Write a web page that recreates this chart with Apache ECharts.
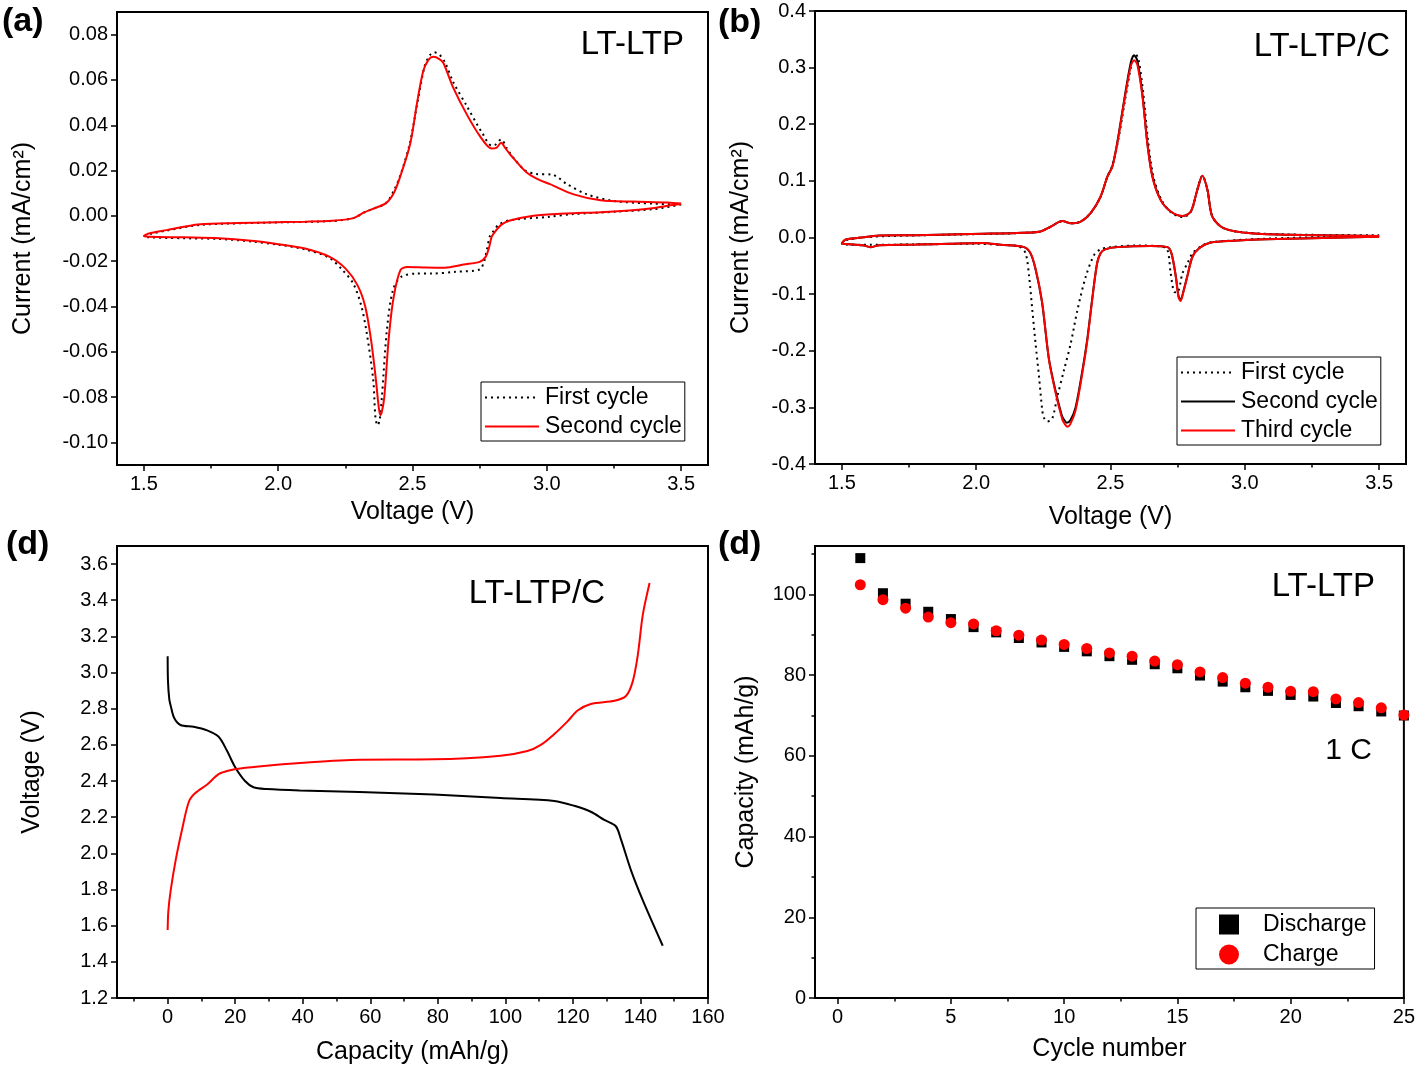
<!DOCTYPE html>
<html>
<head>
<meta charset="utf-8">
<script src="https://cdn.jsdelivr.net/npm/echarts@6/dist/echarts.min.js"></script>
<style>html,body{margin:0;padding:0;background:#fff}#c{width:1418px;height:1068px}</style>
</head>
<body>
<div id="c"></div>
<script>
// ---------- Panel (a): LT-LTP CV, [voltage V, current mA/cm2] in sweep order ----------
const aFirstCycle = [
 [3.50,0.0050],[3.40,0.0030],[3.25,0.0018],[3.10,0.0008],[3.01,-0.0004],[2.86,-0.0020],[2.82,-0.0040],[2.80,-0.0070],
 [2.788,-0.0090],[2.775,-0.0160],[2.766,-0.0203],[2.75,-0.0237],[2.66,-0.0247],[2.57,-0.0255],[2.515,-0.0255],[2.457,-0.0270],
 [2.427,-0.0328],[2.405,-0.0500],[2.386,-0.0800],[2.378,-0.0900],[2.370,-0.0925],[2.362,-0.0890],[2.354,-0.0726],[2.33,-0.0520],
 [2.31,-0.0400],[2.28,-0.0300],[2.24,-0.0240],[2.19,-0.0185],[2.10,-0.0148],[2.00,-0.0127],[1.90,-0.0113],[1.78,-0.0102],
 [1.65,-0.0099],[1.52,-0.0095],[1.50,-0.0092],
 [1.53,-0.0078],[1.585,-0.0065],[1.71,-0.0040],[1.96,-0.0030],[2.20,-0.0023],[2.28,-0.0010],[2.32,0.0015],[2.35,0.0030],
 [2.40,0.0055],[2.43,0.0110],[2.455,0.0180],[2.49,0.0320],[2.52,0.0510],[2.545,0.0660],[2.565,0.0710],[2.581,0.0722],
 [2.60,0.0712],[2.62,0.0680],[2.652,0.0590],[2.702,0.0485],[2.76,0.0365],[2.795,0.0310],[2.81,0.0315],[2.83,0.0338],
 [2.85,0.0300],[2.88,0.0250],[2.92,0.0200],[2.96,0.0185],[3.02,0.0182],[3.074,0.0141],[3.149,0.0095],[3.248,0.0066],
 [3.397,0.0054],[3.50,0.0050]
];
const aSecondCycle = [
 [3.50,0.0052],[3.45,0.0045],[3.40,0.0035],[3.32,0.0025],[3.20,0.0016],[3.07,0.0010],[2.95,0.0000],[2.86,-0.0022],
 [2.83,-0.0040],[2.81,-0.0066],[2.795,-0.0092],[2.785,-0.0140],[2.773,-0.0180],[2.75,-0.0203],[2.69,-0.0215],[2.62,-0.0229],
 [2.55,-0.0228],[2.48,-0.0226],[2.455,-0.0240],[2.43,-0.0358],[2.412,-0.0534],[2.395,-0.0800],[2.385,-0.0870],[2.380,-0.0880],
 [2.372,-0.0820],[2.364,-0.0726],[2.346,-0.0550],[2.324,-0.0400],[2.295,-0.0306],[2.25,-0.0232],[2.19,-0.0180],[2.10,-0.0144],
 [2.00,-0.0125],[1.90,-0.0110],[1.78,-0.0099],[1.65,-0.0095],[1.52,-0.0092],[1.50,-0.0089],
 [1.53,-0.0075],[1.585,-0.0063],[1.65,-0.0048],[1.71,-0.0037],[1.85,-0.0032],[1.96,-0.0029],[2.10,-0.0026],[2.20,-0.0022],
 [2.28,-0.0010],[2.32,0.0015],[2.35,0.0030],[2.40,0.0055],[2.43,0.0100],[2.453,0.0169],[2.491,0.0316],[2.516,0.0492],
 [2.54,0.0639],[2.56,0.0690],[2.578,0.0702],[2.60,0.0692],[2.615,0.0675],[2.652,0.0565],[2.702,0.0448],[2.751,0.0352],
 [2.795,0.0297],[2.812,0.0300],[2.83,0.0323],[2.845,0.0300],[2.863,0.0272],[2.925,0.0191],[2.97,0.0160],[3.012,0.0140],
 [3.10,0.0095],[3.20,0.0069],[3.32,0.0063],[3.45,0.0059],[3.50,0.0054]
];
// ---------- Panel (b): LT-LTP/C CV ----------
const bFirstCycle = [
 [3.50,0.0030],[3.30,0.0010],[3.08,-0.0020],[2.96,-0.0050],[2.87,-0.0090],[2.836,-0.016],[2.805,-0.028],[2.786,-0.046],
 [2.768,-0.063],[2.749,-0.097],[2.737,-0.096],[2.724,-0.063],[2.712,-0.022],[2.69,-0.016],[2.60,-0.014],[2.50,-0.017],
 [2.463,-0.021],[2.439,-0.031],[2.408,-0.069],[2.377,-0.128],[2.352,-0.187],[2.327,-0.234],[2.302,-0.281],[2.283,-0.320],
 [2.265,-0.325],[2.252,-0.318],[2.246,-0.305],[2.234,-0.246],[2.221,-0.187],[2.209,-0.128],[2.197,-0.069],[2.184,-0.028],
 [2.16,-0.016],[2.09,-0.013],[2.00,-0.011],[1.80,-0.012],[1.60,-0.013],[1.50,-0.0115],
 [1.52,-0.004],[1.60,0.001],[1.80,0.004],[2.00,0.006],[2.234,0.010],[2.277,0.019],[2.321,0.029],[2.352,0.025],
 [2.389,0.028],[2.426,0.043],[2.463,0.072],[2.488,0.107],[2.507,0.127],[2.53,0.175],[2.555,0.245],[2.578,0.305],
 [2.592,0.325],[2.604,0.315],[2.622,0.255],[2.64,0.170],[2.66,0.107],[2.69,0.066],[2.724,0.045],[2.768,0.036],
 [2.799,0.045],[2.823,0.084],[2.842,0.109],[2.861,0.084],[2.879,0.037],[2.923,0.016],[3.022,0.008],[3.208,0.005],[3.50,0.004]
];
const bSecondCycle = [
 [3.50,0.0015],[3.33,-0.0003],[3.08,-0.003],[2.96,-0.0056],[2.873,-0.009],[2.83,-0.019],[2.805,-0.034],[2.786,-0.068],
 [2.772,-0.094],[2.761,-0.110],[2.753,-0.103],[2.743,-0.068],[2.727,-0.028],[2.712,-0.017],[2.65,-0.015],[2.526,-0.017],
 [2.48,-0.021],[2.463,-0.028],[2.45,-0.046],[2.432,-0.108],[2.414,-0.178],[2.395,-0.236],[2.37,-0.300],[2.35,-0.323],
 [2.337,-0.327],[2.326,-0.321],[2.318,-0.313],[2.294,-0.268],[2.27,-0.212],[2.245,-0.114],[2.221,-0.056],[2.202,-0.028],
 [2.178,-0.017],[2.091,-0.013],[2.025,-0.0095],[1.90,-0.011],[1.776,-0.0125],[1.64,-0.0135],[1.608,-0.017],[1.577,-0.0137],
 [1.52,-0.0115],[1.50,-0.0105],
 [1.515,-0.0036],[1.565,-0.0006],[1.64,0.0036],[1.776,0.004],[2.025,0.0066],[2.15,0.008],[2.234,0.010],[2.277,0.019],
 [2.321,0.029],[2.352,0.025],[2.389,0.028],[2.426,0.043],[2.463,0.072],[2.488,0.107],[2.507,0.126],[2.526,0.170],
 [2.55,0.240],[2.575,0.308],[2.588,0.322],[2.60,0.312],[2.619,0.252],[2.637,0.168],[2.656,0.108],[2.687,0.066],
 [2.724,0.046],[2.768,0.038],[2.799,0.046],[2.823,0.084],[2.842,0.109],[2.861,0.084],[2.879,0.037],[2.923,0.016],
 [3.022,0.0074],[3.208,0.0044],[3.50,0.0027]
];
const bThirdCycle = [
 [3.50,0.0015],[3.33,-0.0003],[3.08,-0.003],[2.96,-0.0056],[2.873,-0.009],[2.83,-0.019],[2.805,-0.034],[2.786,-0.069],
 [2.772,-0.095],[2.761,-0.112],[2.753,-0.105],[2.743,-0.069],[2.727,-0.028],[2.712,-0.017],[2.65,-0.015],[2.526,-0.017],
 [2.48,-0.021],[2.463,-0.028],[2.45,-0.046],[2.432,-0.110],[2.414,-0.181],[2.395,-0.240],[2.37,-0.305],[2.35,-0.330],
 [2.339,-0.334],[2.328,-0.328],[2.321,-0.322],[2.296,-0.275],[2.271,-0.216],[2.246,-0.116],[2.222,-0.057],[2.203,-0.028],
 [2.178,-0.017],[2.091,-0.013],[2.025,-0.0095],[1.90,-0.011],[1.776,-0.0125],[1.64,-0.0135],[1.608,-0.017],[1.577,-0.0137],
 [1.52,-0.0115],[1.50,-0.0105],
 [1.515,-0.0036],[1.565,-0.0006],[1.64,0.0036],[1.776,0.004],[2.025,0.0066],[2.15,0.008],[2.234,0.010],[2.277,0.019],
 [2.321,0.029],[2.352,0.025],[2.389,0.028],[2.426,0.043],[2.463,0.072],[2.488,0.107],[2.507,0.125],[2.526,0.168],
 [2.55,0.237],[2.575,0.302],[2.588,0.313],[2.60,0.305],[2.619,0.249],[2.637,0.166],[2.656,0.107],[2.687,0.066],
 [2.724,0.046],[2.768,0.038],[2.799,0.046],[2.823,0.084],[2.842,0.109],[2.861,0.084],[2.879,0.037],[2.923,0.016],
 [3.022,0.0074],[3.208,0.0044],[3.50,0.0027]
];
// ---------- Panel (c): charge/discharge, [capacity mAh/g, voltage V] ----------
const cDischarge = [
 [0,3.09],[0.1,2.95],[0.5,2.85],[0.9,2.817],[1.9,2.75],[3.8,2.71],[7.7,2.70],[11.7,2.68],[15.1,2.645],[17.5,2.57],
 [20,2.476],[22.9,2.40],[25.4,2.366],[29.3,2.356],[39.1,2.348],[56.8,2.34],[78.8,2.325],[98.6,2.306],[114.5,2.29],
 [120.4,2.263],[125.3,2.23],[129.3,2.185],[132.7,2.15],[134.3,2.073],[137.2,1.906],[140.7,1.74],[146.6,1.489]
];
const cCharge = [
 [0,1.576],[0.2,1.68],[0.9,1.795],[2.4,1.965],[4.3,2.135],[6.3,2.287],[8.2,2.334],[11.7,2.381],[15.1,2.438],[18.5,2.46],
 [21.5,2.47],[29.3,2.485],[39.1,2.50],[56.8,2.518],[78.8,2.52],[98.6,2.54],[106.5,2.566],[110.5,2.60],[114.5,2.66],
 [118.4,2.73],[121.4,2.79],[125.3,2.826],[132.3,2.844],[135.7,2.87],[137.7,2.95],[139.2,3.095],[140.7,3.32],[142.7,3.495]
];
// ---------- Panel (d): cycling ----------
const dCycles = [1,2,3,4,5,6,7,8,9,10,11,12,13,14,15,16,17,18,19,20,21,22,23,24,25];
const dDischarge = [109.0,100.3,97.7,95.7,93.9,91.9,90.6,89.2,88.1,87.0,85.9,84.7,83.8,82.7,81.7,79.9,78.4,77.0,76.1,75.1,74.7,73.1,72.3,71.0,70.0];
const dCharge = [102.4,98.7,96.6,94.4,93.0,92.7,91.0,89.9,88.7,87.6,86.6,85.5,84.7,83.5,82.6,80.8,79.4,78.0,77.0,76.0,75.9,74.1,73.2,71.9,70.1];

// ---------- tick values ----------
const cvXTicks = [1.5,2.0,2.5,3.0,3.5];
const cvXMinor = [1.75,2.25,2.75,3.25];
const aYTicks = [-0.10,-0.08,-0.06,-0.04,-0.02,0.00,0.02,0.04,0.06,0.08];
const bYTicks = [-0.4,-0.3,-0.2,-0.1,0.0,0.1,0.2,0.3,0.4];
const cXTicks = [0,20,40,60,80,100,120,140,160];
const cXMinor = [-10,10,30,50,70,90,110,130,150];
const cYTicks = [1.2,1.4,1.6,1.8,2.0,2.2,2.4,2.6,2.8,3.0,3.2,3.4,3.6];
const dXTicks = [0,5,10,15,20,25];
const dXMinor = [2.5,7.5,12.5,17.5,22.5];
const dYTicks = [0,20,40,60,80,100];
const dYMinor = [10,30,50,70,90,110];

const FONT = '"Liberation Sans", Arial, sans-serif';
const BLACK = '#000';
const RED = '#ff0000';

function majorAxis(o) {
  return {
    type: 'value', gridIndex: o.grid, position: o.pos, min: o.min, max: o.max,
    name: o.name, nameLocation: 'middle', nameGap: o.nameGap,
    nameTextStyle: { fontFamily: FONT, fontSize: 25, color: BLACK },
    axisLine: { show: true, onZero: false, lineStyle: { color: BLACK, width: 2 } },
    axisTick: { show: true, inside: false, length: 6, customValues: o.ticks, lineStyle: { color: BLACK, width: 1.5 } },
    axisLabel: { show: true, customValues: o.ticks, margin: o.margin || 9, formatter: o.fmt,
      fontFamily: FONT, fontSize: 20, color: BLACK, showMinLabel: true, showMaxLabel: true },
    splitLine: { show: false }, minorTick: { show: false }
  };
}
function minorAxis(o) {
  return {
    type: 'value', gridIndex: o.grid, position: o.pos, min: o.min, max: o.max,
    axisLine: { show: false, onZero: false },
    axisTick: { show: true, inside: false, length: 3.5, customValues: o.ticks, lineStyle: { color: BLACK, width: 1.5 } },
    axisLabel: { show: false }, splitLine: { show: false }
  };
}
const f2 = v => v.toFixed(2);
const f1 = v => v.toFixed(1);
const f0 = v => String(Math.round(v));

const grids = [
  { left: 117, top: 12, width: 591, height: 453 },
  { left: 815, top: 11, width: 591, height: 453 },
  { left: 117, top: 546, width: 591, height: 452 },
  { left: 815, top: 546, width: 591, height: 452 }
].map(g => Object.assign(g, { show: true, borderColor: BLACK, borderWidth: 2, backgroundColor: 'transparent' }));

const xAxes = [
  majorAxis({ grid: 0, pos: 'bottom', min: 1.4, max: 3.6, ticks: cvXTicks, fmt: f1, name: 'Voltage (V)', nameGap: 35 }),
  minorAxis({ grid: 0, pos: 'bottom', min: 1.4, max: 3.6, ticks: cvXMinor }),
  majorAxis({ grid: 1, pos: 'bottom', min: 1.4, max: 3.6, ticks: cvXTicks, fmt: f1, name: 'Voltage (V)', nameGap: 41 }),
  minorAxis({ grid: 1, pos: 'bottom', min: 1.4, max: 3.6, ticks: cvXMinor }),
  majorAxis({ grid: 2, pos: 'bottom', min: -15, max: 160, ticks: cXTicks, fmt: f0, name: 'Capacity (mAh/g)', nameGap: 42 }),
  minorAxis({ grid: 2, pos: 'bottom', min: -15, max: 160, ticks: cXMinor }),
  majorAxis({ grid: 3, pos: 'bottom', min: -1, max: 25, ticks: dXTicks, fmt: f0, name: 'Cycle number', nameGap: 39 }),
  minorAxis({ grid: 3, pos: 'bottom', min: -1, max: 25, ticks: dXMinor })
];
const yAxes = [
  majorAxis({ grid: 0, pos: 'left', min: -0.11, max: 0.09, ticks: aYTicks, fmt: f2, name: 'Current (mA/cm²)', nameGap: 81 }),
  majorAxis({ grid: 1, pos: 'left', min: -0.4, max: 0.4, ticks: bYTicks, fmt: f1, name: 'Current (mA/cm²)', nameGap: 61 }),
  majorAxis({ grid: 2, pos: 'left', min: 1.2, max: 3.7, ticks: cYTicks, fmt: f1, name: 'Voltage (V)', nameGap: 72 }),
  majorAxis({ grid: 3, pos: 'left', min: 0, max: 112, ticks: dYTicks, fmt: f0, name: 'Capacity (mAh/g)', nameGap: 56 }),
  minorAxis({ grid: 3, pos: 'left', min: 0, max: 112, ticks: dYMinor })
];

function lineSeries(name, data, xi, yi, color, dotted, z) {
  return {
    type: 'line', name: name, data: data, xAxisIndex: xi, yAxisIndex: yi,
    symbol: 'none', showSymbol: false, smooth: 0.3, z: z,
    lineStyle: dotted ? { color: color, width: 2, type: [2, 4] } : { color: color, width: 2 },
    itemStyle: { color: color }, emphasis: { disabled: true }
  };
}

const series = [
  lineSeries('a|First cycle', aFirstCycle, 0, 0, BLACK, true, 2),
  lineSeries('a|Second cycle', aSecondCycle, 0, 0, RED, false, 3),
  lineSeries('b|First cycle', bFirstCycle, 2, 1, BLACK, true, 2),
  lineSeries('b|Second cycle', bSecondCycle, 2, 1, BLACK, false, 3),
  lineSeries('b|Third cycle', bThirdCycle, 2, 1, RED, false, 4),
  lineSeries('c|Discharge', cDischarge, 4, 2, BLACK, false, 3),
  lineSeries('c|Charge', cCharge, 4, 2, RED, false, 3),
  { type: 'scatter', name: 'd|Discharge', xAxisIndex: 6, yAxisIndex: 3, symbol: 'rect', symbolSize: 10,
    data: dCycles.map((c, i) => [c, dDischarge[i]]), itemStyle: { color: BLACK, opacity: 1 }, z: 3, emphasis: { disabled: true } },
  { type: 'scatter', name: 'd|Charge', xAxisIndex: 6, yAxisIndex: 3, symbol: 'circle', symbolSize: 11,
    data: dCycles.map((c, i) => [c, dCharge[i]]), itemStyle: { color: RED, opacity: 1 }, z: 4, emphasis: { disabled: true } }
];

const legendBase = {
  orient: 'vertical', selectedMode: false, backgroundColor: '#fff',
  borderColor: BLACK, borderWidth: 1, borderRadius: 0,
  formatter: n => n.split('|')[1]
};
const legends = [
  Object.assign({}, legendBase, { left: 481, top: 382, data: ['a|First cycle', 'a|Second cycle'],
    padding: [4, 3, 3, 3], itemWidth: 54, itemHeight: 20, itemGap: 6, itemStyle: { opacity: 0 },
    textStyle: { fontFamily: FONT, fontSize: 23, color: BLACK, lineHeight: 20, padding: [0, 0, 0, 1] } }),
  Object.assign({}, legendBase, { left: 1177, top: 357, data: ['b|First cycle', 'b|Second cycle', 'b|Third cycle'],
    padding: [4, 3, 3, 3], itemWidth: 54, itemHeight: 20, itemGap: 6, itemStyle: { opacity: 0 },
    textStyle: { fontFamily: FONT, fontSize: 23, color: BLACK, lineHeight: 20, padding: [0, 0, 0, 1] } }),
  Object.assign({}, legendBase, { left: 1196, top: 908, data: ['d|Discharge', 'd|Charge'],
    padding: [5, 8, 3, 23], itemWidth: 20, itemHeight: 20, itemGap: 7, itemStyle: { opacity: 1 },
    textStyle: { fontFamily: FONT, fontSize: 23, color: BLACK, lineHeight: 20, padding: [0, 0, 0, 19] } })
];

function txt(x, y, s, size, bold, align) {
  return { type: 'text', x: x, y: y, z: 100, silent: true,
    style: { text: s, fontFamily: FONT, fontSize: size, fontWeight: bold ? 'bold' : 'normal',
      fill: BLACK, align: align || 'left', verticalAlign: 'middle' } };
}
const graphics = [
  txt(2, 22, '(a)', 34, true), txt(718, 23, '(b)', 34, true),
  txt(6, 545, '(d)', 34, true), txt(718, 545, '(d)', 34, true),
  txt(684, 45, 'LT-LTP', 33, false, 'right'),
  txt(1390, 47, 'LT-LTP/C', 33, false, 'right'),
  txt(605, 594, 'LT-LTP/C', 33, false, 'right'),
  txt(1375, 587, 'LT-LTP', 33, false, 'right'),
  txt(1372, 751, '1 C', 30, false, 'right')
];

const chart = echarts.init(document.getElementById('c'), null, { renderer: 'canvas' });
chart.setOption({
  animation: false, backgroundColor: '#fff',
  grid: grids, xAxis: xAxes, yAxis: yAxes, series: series,
  legend: legends, graphic: graphics, tooltip: { show: false }
});
</script>
</body>
</html>
